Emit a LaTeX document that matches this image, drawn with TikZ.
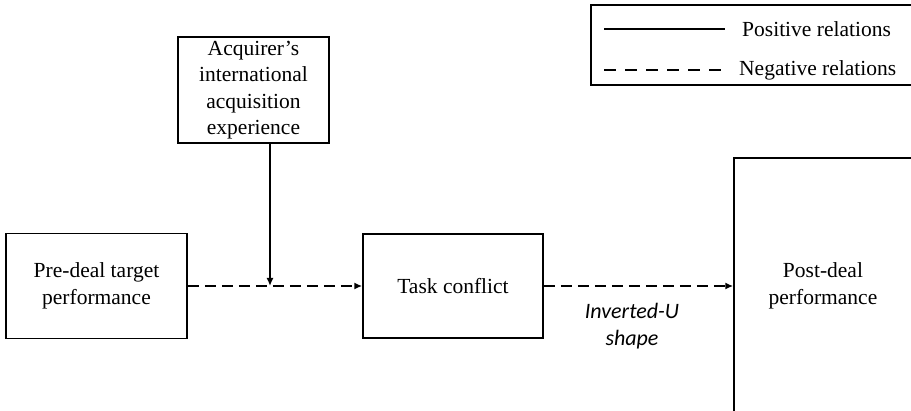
\documentclass[tikz,border=0pt]{standalone}
\usepackage{fontspec}
\setmainfont{Liberation Serif}
\newfontfamily\carl{Carlito}
\usetikzlibrary{arrows.meta}
\begin{document}
\begin{tikzpicture}[x=1pt,y=-1pt,
  box/.style={draw, line width=1.5pt, inner sep=0pt, align=center,
    font=\fontsize{21.5}{26.5}\selectfont},
  lbl/.style={inner sep=0pt, anchor=west, font=\fontsize{21.5}{24}\selectfont},
  posline/.style={line width=2.2pt},
  negline/.style={line width=2.2pt, dash pattern=on 11pt off 6pt},
  legneg/.style={line width=2.4pt, dash pattern=on 12pt off 9pt},
  tip/.style={-{Latex[length=8pt,width=7pt]}}]
\useasboundingbox (0,0) rectangle (911,411);
\clip (0,0) rectangle (911,411);
% legend
\node[draw, line width=1.5pt, minimum width=322pt, minimum height=80pt, inner sep=0pt] (leg) at (752,45) {};
\coordinate (p1) at (604,29); \coordinate (p2) at (725,29);
\coordinate (n1) at (604,70); \coordinate (n2) at (725,70);
\draw[posline, line width=2.4pt] (p1) -- (p2);
\draw[legneg] (n1) -- (n2);
\node[lbl] (pt) at (742,29) {Positive\ relations};
\node[lbl] (nt) at (739,70) {Negative\ relations};
% boxes
\node[box, minimum width=151pt, minimum height=106pt] (acq) at (253.5,90)
  {Acquirer’s\\international\\acquisition\\experience};
\node[box, minimum width=181pt, minimum height=105pt] (pre) at (96.5,286)
  {Pre-deal target\\performance};
\node[box, minimum width=180pt, minimum height=104pt] (task) at (453,286)
  {Task conflict};
\node[box, minimum width=178pt, minimum height=256pt] (post) at (823,286)
  {Post-deal\\performance};
% connectors
\coordinate (j) at (270,286);
\draw[negline, tip] (pre) -- (task);
\draw[posline, tip] (acq.south -| j) -- (j);
\draw[negline, tip] (task) -- (post);
\node[inner sep=0pt, align=center, font=\carl\itshape\fontsize{22}{27}\selectfont] (iu) at (632,326)
  {Inverted-U\\shape};
\end{tikzpicture}
\end{document}
